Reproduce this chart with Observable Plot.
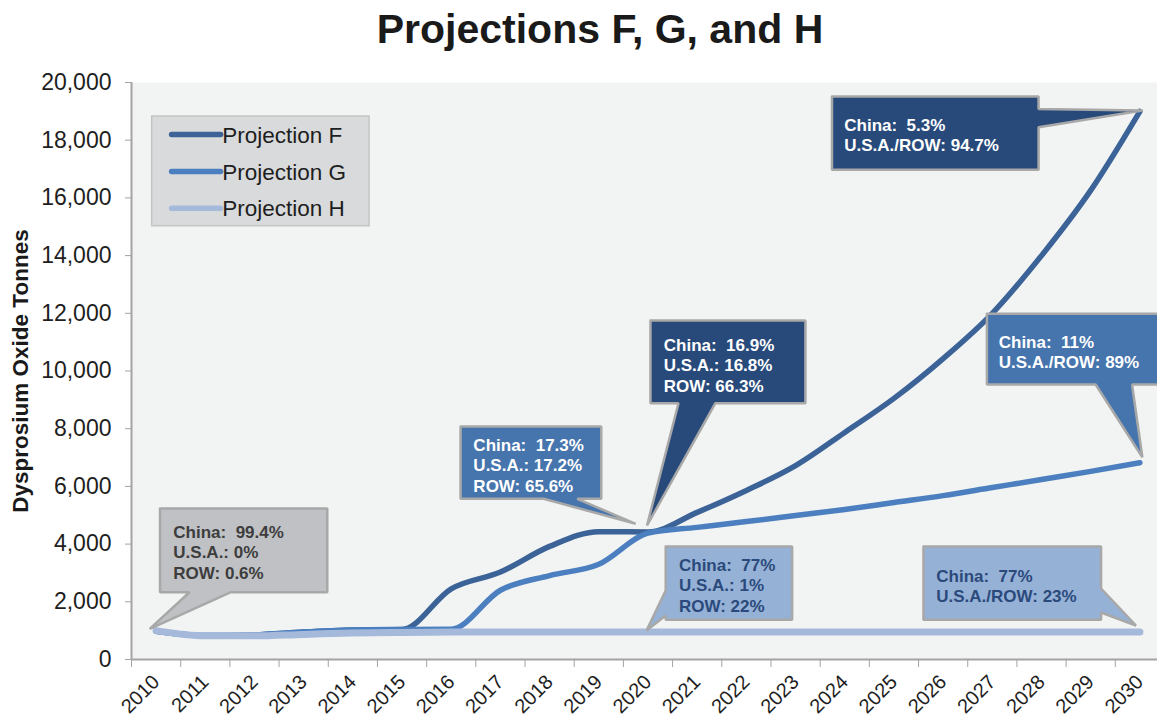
<!DOCTYPE html>
<html>
<head>
<meta charset="utf-8">
<script src="https://cdn.jsdelivr.net/npm/d3@7"></script>
<script src="https://cdn.jsdelivr.net/npm/@observablehq/plot@0.6"></script>
<style>
  html, body { margin: 0; padding: 0; background: #ffffff; overflow: hidden; }
  #title { width: 1200px; height: 60px; box-sizing: border-box; padding-top: 6px; line-height: 40px;
           text-align: center; font: bold 41px "Liberation Sans", Arial, sans-serif; color: #1a1a1a; }
</style>
</head>
<body>
<div id="title">Projections F, G, and H</div>
<div id="chart"></div>
<script>
// ---- data ----
const years = [2010, 2011, 2012, 2013, 2014, 2015, 2016, 2017, 2018, 2019, 2020,
               2021, 2022, 2023, 2024, 2025, 2026, 2027, 2028, 2029, 2030];
const projF = [980, 830, 850, 950, 1020, 1040, 2450, 3030, 3920, 4430, 4420,
               5100, 5860, 6720, 7870, 9050, 10430, 12000, 14000, 16260, 19000];
const projG = [980, 830, 850, 950, 1020, 1040, 1050, 2400, 2910, 3300, 4380,
               4580, 4780, 4990, 5200, 5440, 5680, 5960, 6240, 6520, 6820];
const projH = [1000, 820, 820, 870, 920, 940, 950, 950, 950, 950, 950,
               950, 950, 950, 950, 950, 950, 950, 950, 950, 950];
const seriesNames = ["Projection F", "Projection G", "Projection H"];
const seriesColors = ["#3b6397", "#4b7fbf", "#a5badb"];
const yTicks = [0, 2000, 4000, 6000, 8000, 10000, 12000, 14000, 16000, 18000, 20000];

// callout texts
const calloutTexts = [
  ["China:  99.4%", "U.S.A.: 0%", "ROW: 0.6%"],
  ["China:  77%", "U.S.A.: 1%", "ROW: 22%"],
  ["China:  77%", "U.S.A./ROW: 23%"],
  ["China:  16.9%", "U.S.A.: 16.8%", "ROW: 66.3%"],
  ["China:  17.3%", "U.S.A.: 17.2%", "ROW: 65.6%"],
  ["China:  5.3%", "U.S.A./ROW: 94.7%"],
  ["China:  11%", "U.S.A./ROW: 89%"]
];

// ---- annotation layout (in data units: years / tonnes) ----
const calloutBoxes = [
  {x1: 2010.08, x2: 2013.48, top: 5230, bottom: 2330, side: "bottom", a: 2010.68, b: 2011.51, tipX: 2009.87, tipY: 1060, tx: 2010.35, ty: 4714, fill: "#bfc1c4", color: "#3d3d3d"},
  {x1: 2020.36, x2: 2022.93, top: 3917, bottom: 1376, side: "left", a: 2392, b: 1525, tipX: 2019.97, tipY: 1005, tx: 2020.63, ty: 3577, fill: "#95b1d6", color: "#2b4a7b"},
  {x1: 2025.60, x2: 2029.21, top: 3917, bottom: 1376, side: "right", a: 2461, b: 1629, tipX: 2029.92, tipY: 1178, tx: 2025.86, ty: 3189, fill: "#95b1d6", color: "#2b4a7b"},
  {x1: 2020.05, x2: 2023.20, top: 11750, bottom: 8884, side: "bottom", a: 2020.62, b: 2021.37, tipX: 2019.98, tipY: 4645, tx: 2020.32, ty: 11196, fill: "#284a7b", color: "#ffffff"},
  {x1: 2016.19, x2: 2019.05, top: 8076, bottom: 5570, side: "bottom", a: 2017.88, b: 2018.56, tipX: 2019.75, tipY: 4704, tx: 2016.45, ty: 7730, fill: "#4674ad", color: "#ffffff"},
  {x1: 2023.74, x2: 2027.94, top: 19515, bottom: 16974, side: "right", a: 19081, b: 18451, tipX: 2030.05, tipY: 19029, tx: 2023.99, ty: 18821, fill: "#284a7b", color: "#ffffff"},
  {x1: 2026.89, x2: 2030.60, top: 11983, bottom: 9532, side: "bottom", a: 2029.10, b: 2029.84, tipX: 2030.05, tipY: 7012, tx: 2027.13, ty: 11300, fill: "#4674ad", color: "#ffffff"}
];
const legendBox = {x1: 2009.92, x2: 2014.34, y1: 15019, y2: 18821};
const legendRows = [18197, 16915, 15643];

// ---- build tables ----
const lineData = [];
[projF, projG, projH].forEach((vals, s) => {
  vals.forEach((v, i) => lineData.push({series: seriesNames[s], year: years[i], value: v}));
});

function outline(c) {
  const p = [[c.x1, c.top], [c.x2, c.top]];
  if (c.side === "right") p.push([c.x2, c.a], [c.tipX, c.tipY], [c.x2, c.b]);
  p.push([c.x2, c.bottom]);
  if (c.side === "bottom") p.push([c.b, c.bottom], [c.tipX, c.tipY], [c.a, c.bottom]);
  p.push([c.x1, c.bottom]);
  if (c.side === "left") p.push([c.x1, c.b], [c.tipX, c.tipY], [c.x1, c.a]);
  p.push([c.x1, c.top]);
  return p;
}
const calloutShapes = [];
calloutBoxes.forEach((c, k) => outline(c).forEach(([x, y]) => calloutShapes.push({k, x, y, fill: c.fill})));
const calloutLabels = calloutBoxes.map((c, k) => ({x: c.tx, y: c.ty, text: calloutTexts[k].join("\n"), color: c.color}));
const legendItems = seriesNames.map((n, i) => ({name: n, color: seriesColors[i], y: legendRows[i]}));
const boundaries = years.map(y => y - 0.5).concat([years[years.length - 1] + 0.5]);

const FONT = '"Liberation Sans", Arial, sans-serif';

const chart = Plot.plot({
  width: 1157,
  height: 663,
  marginTop: 22,
  marginBottom: 64,
  marginLeft: 131,
  marginRight: 0,
  style: {fontFamily: FONT, background: "transparent", overflow: "visible"},
  x: {type: "linear", domain: [boundaries[0], boundaries[boundaries.length - 1]], range: [131, 1164]},
  y: {domain: [0, 20000], label: null},
  color: {type: "identity"},
  marks: [
    Plot.frame({fill: "#f2f3f3", stroke: null}),
    Plot.ruleY([0], {stroke: "#a3a3a3", strokeWidth: 2}),
    Plot.ruleX([boundaries[0]], {stroke: "#a3a3a3", strokeWidth: 2}),
    Plot.axisY({ticks: yTicks, tickFormat: d3.format(","), tickSize: 6, tickPadding: 14, fontSize: 23,
                stroke: "#a3a3a3", fill: "#1e1e1e", label: null}),
    Plot.axisX({ticks: boundaries, tickFormat: () => "", tickSize: 8, stroke: "#a3a3a3", label: null}),
    Plot.axisX({ticks: years, tickFormat: d => String(d), tickSize: 0, tickPadding: 19, tickRotate: -45,
                fontSize: 20, fill: "#1e1e1e", label: null}),
    Plot.text(["Dysprosium Oxide Tonnes"], {frameAnchor: "left", textAnchor: "middle", rotate: -90, dx: -111,
                fontSize: 22.5, fontWeight: "bold", fill: "#1a1a1a"}),
    Plot.line(lineData.filter(d => d.series === seriesNames[0]), {x: "year", y: "value", stroke: seriesColors[0], strokeWidth: 5.5, curve: "monotone-x"}),
    Plot.line(lineData.filter(d => d.series === seriesNames[1]), {x: "year", y: "value", stroke: seriesColors[1], strokeWidth: 5.5, curve: "monotone-x"}),
    Plot.line(lineData.filter(d => d.series === seriesNames[2]), {x: "year", y: "value", stroke: seriesColors[2], strokeWidth: 7, curve: "monotone-x"}),
    Plot.line(calloutShapes, {x: "x", y: "y", z: "k", fill: "fill", stroke: "#a8a8a8", strokeWidth: 2.5, strokeLinejoin: "miter", curve: "linear"}),
    Plot.text(calloutLabels, {x: "x", y: "y", text: "text", fill: "color", textAnchor: "start", lineAnchor: "top",
                lineHeight: 1.2, fontSize: 17, fontWeight: "bold"}),
    Plot.rect([legendBox], {x1: "x1", x2: "x2", y1: "y1", y2: "y2", fill: "#d9dadc", stroke: "#c4c4c4", strokeWidth: 1.5}),
    Plot.link(legendItems, {x1: 2010.315, x2: 2011.311, y1: "y", y2: "y", stroke: "color", strokeWidth: 5.5, strokeLinecap: "round"}),
    Plot.text(legendItems, {x: 2011.345, y: "y", text: "name", textAnchor: "start", fontSize: 22.5, fill: "#1e1e1e", dy: 1})
  ]
});
document.getElementById("chart").appendChild(chart);
</script>
</body>
</html>
